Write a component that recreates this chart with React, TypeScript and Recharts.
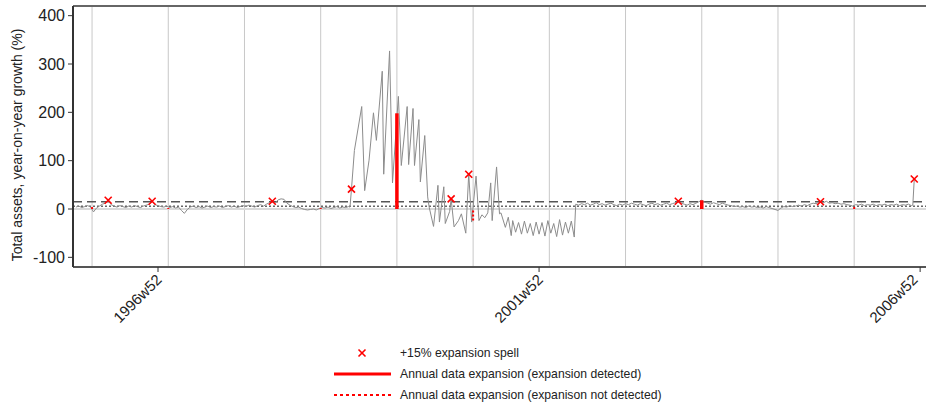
import { ComposedChart, Line, Scatter, XAxis, YAxis, ReferenceLine } from "recharts";

// Stata weekly index: 0 = 1996w1, 52 weeks per year
const tickWeeks = [51, 311, 571];
const tickLabels = ["1996w52", "2001w52", "2006w52"];
const yTicks = [-100, 0, 100, 200, 300, 400];

// annual reporting dates (vertical grid)
const annualWeeks = [6, 58, 110, 162, 214, 266, 318, 370, 422, 474, 526];

// weekly y-o-y growth of total assets, %
const calmGrowthEarly: [number, number][] = [
  [-5, 4], [-3, 6], [-1, 3], [1, 5], [3, 7], [5, 4], [7, -6], [9, 2], [11, 6], [13, 10],
  [15, 12], [17, 18], [19, 9], [21, 6], [23, 4], [25, 7], [27, 5], [29, 3], [31, 6], [33, 4],
  [35, 7], [37, 5], [39, 3], [41, 6], [43, 8], [45, 10], [47, 16], [49, 9], [51, 7], [53, 5],
  [55, 4], [57, 6], [59, 3], [61, 5], [63, 2], [65, 4], [67, -3], [69, -9], [71, -1], [73, 4],
  [75, 6], [77, 3], [79, 5], [81, 2], [83, 4], [85, 6], [87, 3], [89, 5], [91, 4], [93, 6],
  [95, 3], [97, 5], [99, 7], [101, 4], [103, 6], [105, 3], [107, 5], [109, 7], [111, 5], [113, 8],
  [115, 6], [117, 4], [119, 7], [121, 9], [123, 6], [125, 10], [127, 13], [129, 16], [131, 12], [133, 19],
  [135, 21], [137, 20], [139, 12], [141, 8], [143, 5], [145, 3], [147, 4], [149, 1], [151, -1], [153, -2],
  [155, -1], [157, 0], [159, -2], [161, 1], [163, 3], [165, 2], [167, 4], [169, 1], [171, 3], [173, 5],
  [175, 2], [177, 4], [179, 3], [181, 5], [182, 4],
];

const boomGrowth: [number, number][] = [
  [183, 41], [185, 121], [190, 212], [192, 38], [195, 101], [198, 199], [200, 142], [204, 285], [205, 72],
  [209, 327], [211, 54], [215, 233], [217, 90], [221, 212], [222, 92], [225, 208], [226, 90], [229, 185],
  [230, 56], [233, 152], [235, 25], [236, 4], [239, -36], [242, 49], [243, -27], [246, 46], [247, -30],
  [250, -5], [251, 21], [253, -37], [256, -24], [258, -10], [261, -50], [263, 73], [265, -27], [268, 68],
  [270, -24], [272, -12], [274, -18], [276, -8], [278, 54], [279, -24], [282, 87], [284, -10], [285, -8],
  [288, -38], [290, -17], [292, -55], [293, -24], [295, -48], [297, -28], [299, -52], [301, -25], [303, -50],
  [305, -30], [307, -55], [309, -27], [311, -52], [313, -28], [315, -56], [317, -24], [319, -50], [321, -30],
  [323, -57], [325, -22], [327, -54], [329, -27], [331, -50], [333, -25], [335, -58], [336, 10],
];

const calmGrowthLate: [number, number][] = [
  [338, 8], [340, 11], [342, 9], [344, 12], [346, 8], [348, 10], [350, 13], [352, 9], [354, 11], [356, 8],
  [358, 10], [360, 12], [362, 9], [364, 7], [366, 10], [368, 8], [370, 11], [372, 9], [374, 12], [376, 10],
  [378, 8], [380, 11], [382, 9], [384, 7], [386, 10], [388, 12], [390, 9], [392, 11], [394, 8], [396, 10],
  [398, 12], [400, 9], [402, 11], [404, 13], [406, 16], [408, 12], [410, 10], [412, 8], [414, 11], [416, 9],
  [418, 12], [420, 15], [422, 18], [424, 14], [426, 12], [428, 10], [430, 13], [432, 11], [434, 9], [436, 12],
  [438, 10], [440, 8], [442, 7], [444, 5], [446, 6], [448, 4], [450, 5], [452, 3], [454, 6], [456, 4],
  [458, 5], [460, 3], [462, 4], [464, 2], [466, 5], [468, 3], [470, 1], [472, -1], [474, -3], [476, 2],
  [478, 5], [480, 4], [482, 7], [484, 5], [486, 6], [488, 8], [490, 6], [492, 9], [494, 7], [496, 10],
  [498, 12], [500, 11], [503, 15], [505, 13], [507, 16], [509, 12], [511, 13], [513, 11], [515, 12], [517, 10],
  [519, 11], [521, 9], [523, 8], [525, 6], [527, 9], [529, 8], [531, 10], [533, 7], [535, 9], [537, 8],
  [539, 10], [541, 7], [543, 9], [545, 8], [547, 10], [549, 7], [551, 9], [553, 8], [555, 10], [557, 7],
  [559, 9], [561, 8], [563, 10], [565, 7], [566, 8], [567, 62],
];

// +15% expansion spells
const spellWeeks = [17, 47, 129, 183, 251, 263, 406, 503, 567];
const spellValues = [18, 16, 16, 41, 21, 72, 16, 15, 62];

// annual data expansions
const detectedWeeks = [214, 422];
const detectedTop = [198, 18];
const missedWeeks = [6, 58, 162, 266, 526];
const missedFrom = [0, 0, 0, -3, 0];
const missedTo = [4, 2, 2, -24, 6];

const spellThreshold = 15;
const medianGrowth = 5.5;

const growthData = [...calmGrowthEarly, ...boomGrowth, ...calmGrowthLate].map(([w, v]) => ({ w, v }));
const spellData = spellWeeks.map((w, i) => ({ w, v: spellValues[i] }));

const RED = "#ff0000";
const FONT = "'Liberation Sans', Arial, sans-serif";

const Cross = (props: any) => {
  const { cx, cy } = props;
  const s = 3.5;
  return (
    <g stroke={RED} strokeWidth={1.6}>
      <line x1={cx - s} y1={cy - s} x2={cx + s} y2={cy + s} />
      <line x1={cx - s} y1={cy + s} x2={cx + s} y2={cy - s} />
    </g>
  );
};

const WeekTick = (props: any) => {
  const { x, y, payload } = props;
  const label = tickLabels[tickWeeks.indexOf(payload.value)];
  return (
    <g transform={`translate(${x + 1},${y + 3})`}>
      <text textAnchor="end" dy="0.35em" transform="rotate(-45)" fontSize={15} fill="#222">
        {label}
      </text>
    </g>
  );
};

export default function App() {
  return (
    <div style={{ position: "absolute", left: 0, top: 0, width: 926, height: 402, fontFamily: FONT, background: "#fff" }}>
      <ComposedChart
        width={926}
        height={402}
        data={growthData}
        margin={{ top: 6, right: 0, left: 0, bottom: 65 }}
      >
        <XAxis
          dataKey="w"
          type="number"
          domain={[-7, 575]}
          allowDataOverflow
          ticks={tickWeeks}
          tick={<WeekTick />}
          tickSize={5}
          height={70}
          axisLine={{ stroke: "#555", strokeWidth: 2 }}
          tickLine={{ stroke: "#333" }}
        />
        <YAxis
          dataKey="v"
          type="number"
          domain={[-120, 420]}
          allowDataOverflow
          ticks={yTicks}
          width={73}
          tickSize={5}
          tickMargin={3}
          tick={{ fill: "#222", fontSize: 16 }}
          axisLine={{ stroke: "#333", strokeWidth: 2 }}
          tickLine={{ stroke: "#333" }}
        />
        {annualWeeks.map((w) => (
          <ReferenceLine key={`g${w}`} x={w} stroke="#c8c8c8" strokeWidth={1} />
        ))}
        <ReferenceLine y={420} stroke="#666" strokeWidth={2} />
        <ReferenceLine y={0} stroke="#d9d9d9" strokeWidth={2} />
        <ReferenceLine y={spellThreshold} stroke="#555" strokeWidth={1.3} strokeDasharray="9 5" />
        <ReferenceLine y={medianGrowth} stroke="#666" strokeWidth={1.5} strokeDasharray="2 2" />
        <Line
          dataKey="v"
          type="linear"
          stroke="#8c8c8c"
          strokeWidth={1}
          dot={false}
          activeDot={false}
          isAnimationActive={false}
        />
        {detectedWeeks.map((w, i) => (
          <ReferenceLine
            key={`d${w}`}
            segment={[{ x: w, y: 0 }, { x: w, y: detectedTop[i] }]}
            stroke={RED}
            strokeWidth={3.5}
          />
        ))}
        {missedWeeks.map((w, i) => (
          <ReferenceLine
            key={`m${w}`}
            segment={[{ x: w, y: missedFrom[i] }, { x: w, y: missedTo[i] }]}
            stroke={RED}
            strokeWidth={2}
            strokeDasharray="2 2"
          />
        ))}
        <Scatter data={spellData} shape={<Cross />} isAnimationActive={false} />
      </ComposedChart>

      <svg
        width={926}
        height={402}
        style={{ position: "absolute", left: 0, top: 0, pointerEvents: "none" }}
      >
        <text
          transform="translate(17,145) rotate(-90)"
          textAnchor="middle"
          dy="0.35em"
          fontSize={14}
          fill="#222"
        >
          Total assets, year-on-year growth (%)
        </text>
        <Cross cx={362} cy={353} />
        <text x={400} y={353} dy="0.35em" fontSize={12.2} fill="#222">+15% expansion spell</text>
        <line x1={334} y1={374} x2={391} y2={374} stroke={RED} strokeWidth={3} />
        <text x={400} y={374} dy="0.35em" fontSize={12.2} fill="#222">Annual data expansion (expansion detected)</text>
        <line x1={334} y1={395} x2={391} y2={395} stroke={RED} strokeWidth={2} strokeDasharray="3 3" />
        <text x={400} y={395} dy="0.35em" fontSize={12.2} fill="#222">Annual data expansion (expanison not detected)</text>
      </svg>
    </div>
  );
}
